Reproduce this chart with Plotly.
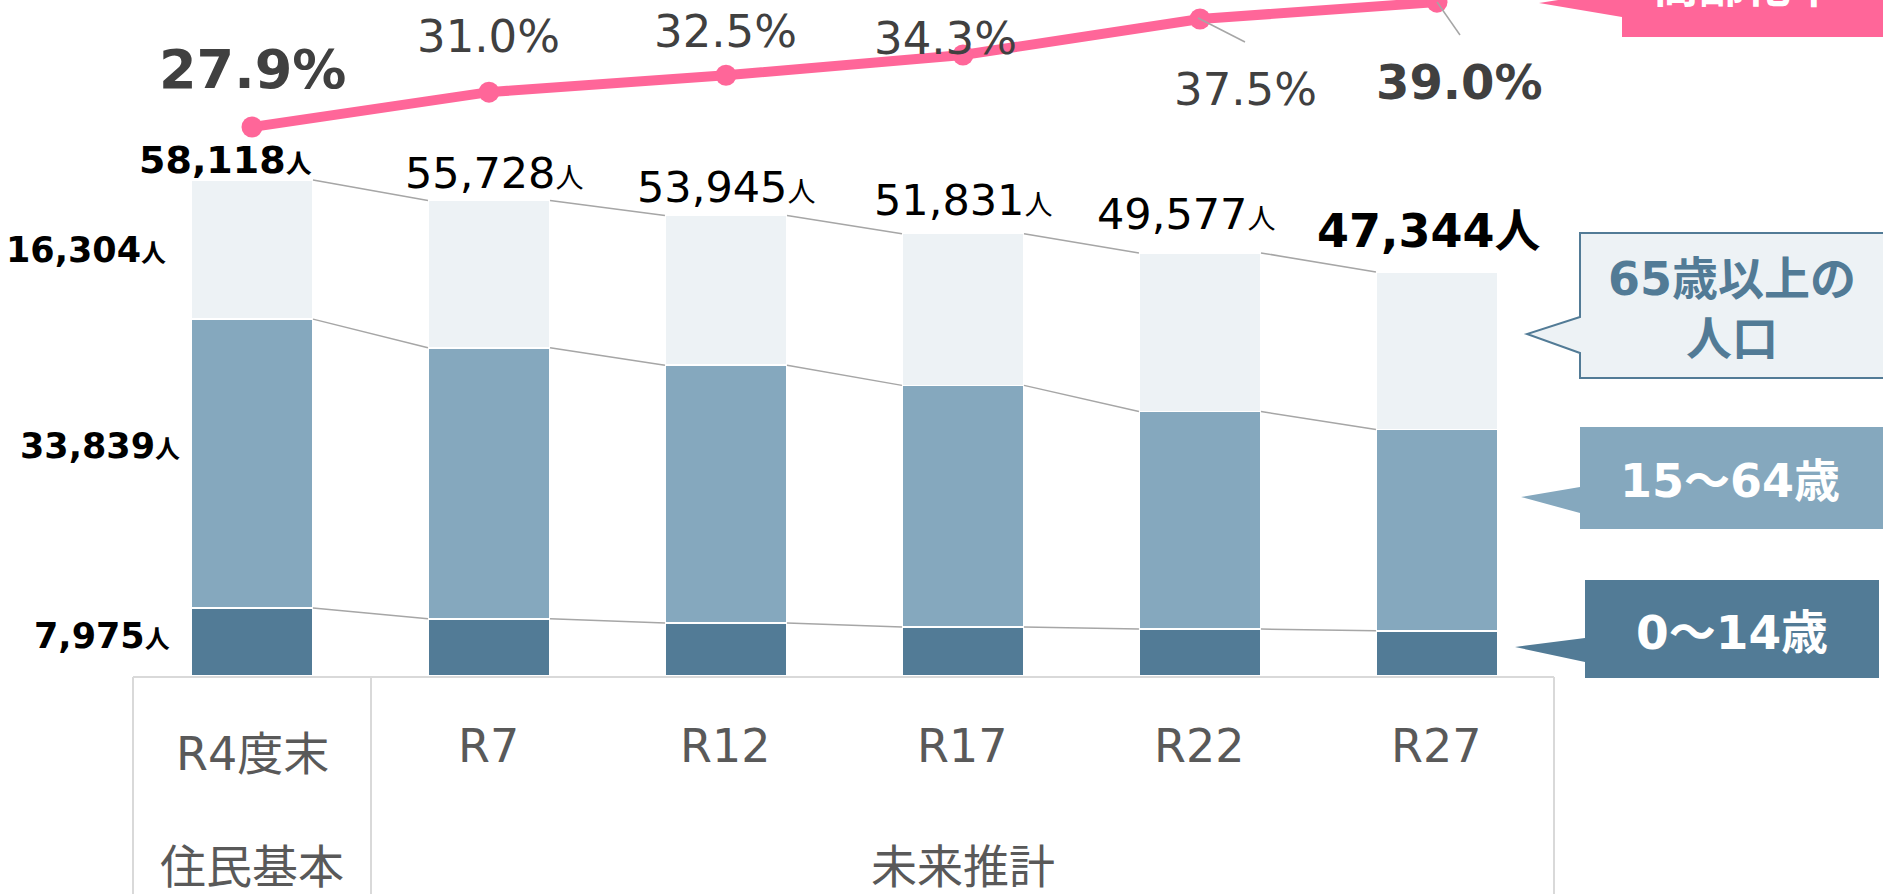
import plotly.graph_objects as go

# 年度区分と人口データ
categories = ["R4度末", "R7", "R12", "R17", "R22", "R27"]
groups = ["住民基本", "未来推計"]
age_0_14 = [7975, 6700, 6200, 5750, 5500, 5300]
age_15_64 = [33839, 31752, 30213, 28303, 25486, 23580]
age_65 = [16304, 17276, 17532, 17778, 18591, 18464]
totals = [58118, 55728, 53945, 51831, 49577, 47344]
aging_rate = [27.9, 31.0, 32.5, 34.3, 37.5, 39.0]

W, H = 1883, 894
FONT = "DejaVu Sans, Noto Sans CJK JP"
C_YOUNG, C_WORK, C_OLD = "#527B96", "#85A8BE", "#EDF2F5"
PINK = "#FF6699"
BAR_W = 0.515


def px(x):
    return x / W


def py(y):
    return 1 - y / H


xs = list(range(len(categories)))
fig = go.Figure()

for vals, color in [(age_0_14, C_YOUNG), (age_15_64, C_WORK), (age_65, C_OLD)]:
    fig.add_trace(go.Bar(x=xs, y=vals, width=BAR_W, marker_color=color,
                         marker_line=dict(color="white", width=1.5),
                         hoverinfo="skip"))

# 棒同士をつなぐ補助線
cum1 = age_0_14
cum2 = [a + b for a, b in zip(age_0_14, age_15_64)]
for level in (cum1, cum2, totals):
    lx, ly = [], []
    for i in range(len(xs) - 1):
        lx += [xs[i] + BAR_W / 2, xs[i + 1] - BAR_W / 2, None]
        ly += [level[i], level[i + 1], None]
    fig.add_trace(go.Scatter(x=lx, y=ly, mode="lines",
                             line=dict(color="#A6A6A6", width=1.5),
                             hoverinfo="skip"))

# 高齢化率
fig.add_trace(go.Scatter(x=xs, y=aging_rate, yaxis="y2", mode="lines+markers",
                         line=dict(color=PINK, width=10),
                         marker=dict(color=PINK, size=21), hoverinfo="skip"))

ann = []
# 総人口ラベル
total_shift = [(-27, -4), (5, 0), (0, 2), (0, 7), (-14, 12), (-8, 12)]
for i, t in enumerate(totals):
    last = i == len(totals) - 1
    if i == 0:
        txt = f"<b>{t:,}<span style='font-size:26px'>人</span></b>"
        size = 38
    elif last:
        txt = f"<b>{t:,}人</b>"
        size = 46
    else:
        txt = f"{t:,}<span style='font-size:28px'>人</span>"
        size = 43
    ann.append(dict(x=xs[i], y=t, text=txt, showarrow=False, yanchor="bottom",
                    xanchor="center", xshift=total_shift[i][0], yshift=total_shift[i][1],
                    font=dict(family=FONT, size=size, color="black")))

# 左側の内訳ラベル
for val, ymid, ys, xsh in [(age_65[0], cum2[0] + age_65[0] / 2, 0, -84),
                           (age_15_64[0], cum1[0] + age_15_64[0] / 2, 18, -70),
                           (age_0_14[0], age_0_14[0] / 2, 6, -80)]:
    ann.append(dict(x=xs[0], y=ymid, text=f"<b>{val:,}<span style='font-size:25px'>人</span></b>",
                    showarrow=False, xanchor="right", yanchor="middle",
                    xshift=xsh, yshift=ys,
                    font=dict(family=FONT, size=35, color="black")))

# 高齢化率ラベル
offsets = [(0, 58), (0, 56), (0, 44), (-17, 17), (46, -70), (23, -80)]
for i, r in enumerate(aging_rate):
    bold = i in (0, len(aging_rate) - 1)
    size = 54 if i == 0 else (48 if bold else 45)
    txt = f"<b>{r:.1f}%</b>" if bold else f"{r:.1f}%"
    ann.append(dict(x=xs[i], y=r, yref="y2", text=txt, showarrow=False,
                    xanchor="center", yanchor="middle",
                    xshift=offsets[i][0], yshift=offsets[i][1],
                    font=dict(family=FONT, size=size, color="#404040")))

# 横軸ラベル
AX_FONT = dict(family=FONT, size=46, color="#595959")
for i, c in enumerate(categories):
    ann.append(dict(x=xs[i], y=py(754 if i == 0 else 746), yref="paper", text=c,
                    showarrow=False, xanchor="center", yanchor="middle", font=AX_FONT))
ann.append(dict(x=xs[0], y=py(867), yref="paper", text=groups[0], showarrow=False,
                xanchor="center", yanchor="middle", font=AX_FONT))
ann.append(dict(x=sum(xs[1:]) / len(xs[1:]), y=py(867), yref="paper", text=groups[1],
                showarrow=False, xanchor="center", yanchor="middle", font=AX_FONT))


# 吹き出し
def path(points):
    return "M " + " L ".join(f"{px(x)},{py(y)}" for x, y in points) + " Z"


shapes = [
    dict(type="path", xref="paper", yref="paper", fillcolor=C_OLD,
         line=dict(color=C_YOUNG, width=2),
         path=path([(1580, 233), (1895, 233), (1895, 378), (1580, 378),
                    (1580, 353), (1527, 334), (1580, 317)])),
    dict(type="path", xref="paper", yref="paper", fillcolor=C_WORK, line_width=0,
         path=path([(1580, 427), (1895, 427), (1895, 529), (1580, 529),
                    (1580, 513), (1521, 497), (1580, 487)])),
    dict(type="path", xref="paper", yref="paper", fillcolor=C_YOUNG, line_width=0,
         path=path([(1585, 580), (1879, 580), (1879, 678), (1585, 678),
                    (1585, 662), (1515, 647), (1585, 638)])),
    dict(type="path", xref="paper", yref="paper", fillcolor=PINK, line_width=0,
         path=path([(1622, -60), (1895, -60), (1895, 37), (1622, 37),
                    (1622, 17), (1539, 3), (1622, -10)])),
    # 引き出し線
    dict(type="line", xref="paper", yref="paper", x0=px(1198), y0=py(18),
         x1=px(1245), y1=py(42), line=dict(color="#A6A6A6", width=1.5)),
    dict(type="line", xref="paper", yref="paper", x0=px(1437), y0=py(2),
         x1=px(1460), y1=py(35), line=dict(color="#A6A6A6", width=1.5)),
]
# 表の罫線
grid = dict(color="#D9D9D9", width=2)
shapes.append(dict(type="line", xref="paper", yref="paper", x0=px(133), x1=px(1554),
                   y0=py(677), y1=py(677), line=grid))
for gx in (133, 371, 1554):
    shapes.append(dict(type="line", xref="paper", yref="paper", x0=px(gx), x1=px(gx),
                       y0=py(677), y1=0, line=grid))

CALL = dict(xref="paper", yref="paper", showarrow=False, xanchor="center", yanchor="middle")
ann += [
    dict(x=px(1732), y=py(309), text="<b>65歳以上の<br>人口</b>",
         font=dict(family=FONT, size=46, color=C_YOUNG), **CALL),
    dict(x=px(1730), y=py(481), text="<b>15〜64歳</b>",
         font=dict(family=FONT, size=46, color="white"), **CALL),
    dict(x=px(1732), y=py(632), text="<b>0〜14歳</b>",
         font=dict(family=FONT, size=47, color="white"), **CALL),
    dict(x=px(1745), y=py(15), xref="paper", yref="paper", xanchor="center",
         yanchor="bottom", text="<b>高齢化率</b>", showarrow=False,
         font=dict(family=FONT, size=46, color="white")),
]

fig.update_layout(
    width=W, height=H, margin=dict(l=0, r=0, t=0, b=0),
    barmode="stack", showlegend=False,
    plot_bgcolor="white", paper_bgcolor="white",
    xaxis=dict(range=[-1.0633, 6.882], visible=False),
    yaxis=dict(range=[-25544, 79209], visible=False),
    yaxis2=dict(range=[-40.278, 39.189], overlaying="y", visible=False),
    annotations=ann, shapes=shapes,
)

fig.write_html("out.html", config={"displayModeBar": False},
               post_script="document.body.style.margin='0';")
